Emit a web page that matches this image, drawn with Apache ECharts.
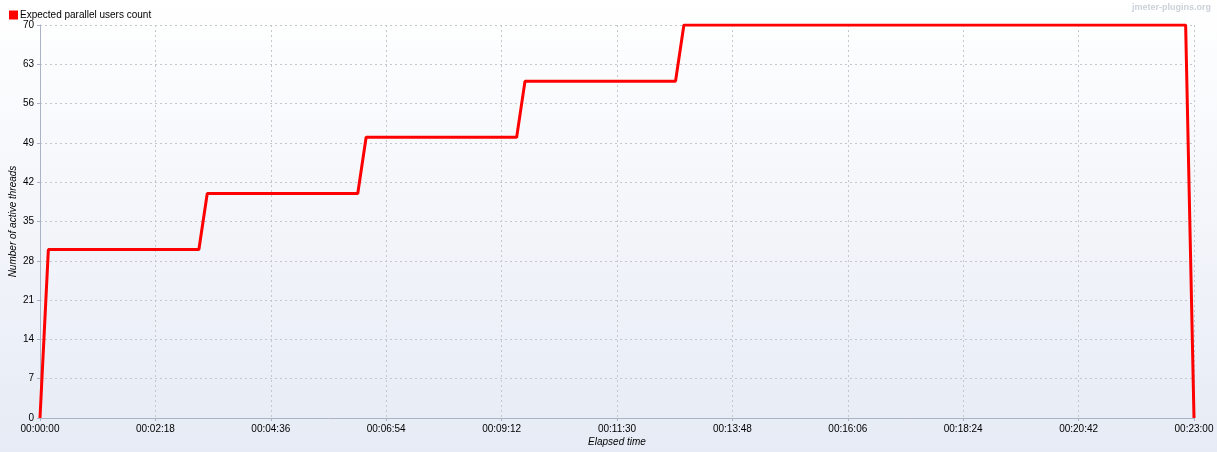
<!DOCTYPE html>
<html><head><meta charset="utf-8">
<script src="https://cdn.jsdelivr.net/npm/echarts@6/dist/echarts.min.js"></script>
<style>html,body{margin:0;padding:0;}#c{width:1217px;height:452px;}</style>
</head><body><div id="c"></div>
<script>
// Elapsed time in seconds
const times = [0, 10, 190, 200, 380, 390, 570, 580, 760, 770, 1370, 1380];
// Expected parallel users count
const users = [0, 30, 30, 40, 40, 50, 50, 60, 60, 70, 70, 0];
const yTicks = [0, 7, 14, 21, 28, 35, 42, 49, 56, 63, 70];
const seriesName = 'Expected parallel users count';

function fmt(v){
  const h = Math.floor(v/3600), m = Math.floor((v%3600)/60), s = Math.round(v%60);
  const p = n => String(n).padStart(2,'0');
  return p(h)+':'+p(m)+':'+p(s);
}
const font = '"Liberation Sans", Arial, sans-serif';
const chart = echarts.init(document.getElementById('c'));
chart.setOption({
  animation:false,
  backgroundColor:{type:'linear',x:0,y:0,x2:0,y2:1,colorStops:[{offset:0,color:'#ffffff'},{offset:1,color:'#e6ebf5'}]},
  textStyle:{fontFamily:font},
  grid:{left:40,right:23,top:25,bottom:34,containLabel:false,outerBoundsMode:'none'},
  legend:{left:4,top:5,itemWidth:9,itemHeight:9,itemGap:4,icon:'rect',
    textStyle:{fontSize:10,color:'#000',fontFamily:font,padding:[0,0,0,-3]},data:[seriesName]},
  graphic:[{type:'text',right:6,top:3,style:{text:'jmeter-plugins.org',fill:'#ccd1d8',font:'bold 9px '+font}}],
  xAxis:{type:'value',min:0,max:1380,interval:138,name:'Elapsed time',nameLocation:'middle',nameGap:19,
    nameMoveOverlap:false,
    nameTextStyle:{fontStyle:'italic',fontSize:10,color:'#000',fontFamily:font},
    axisLine:{lineStyle:{color:'#aab3c3',width:1}},
    axisTick:{show:true,length:3,lineStyle:{color:'#aab3c3'}},
    axisLabel:{formatter:fmt,fontSize:10,color:'#000',margin:6,fontFamily:font},
    splitLine:{show:true,lineStyle:{color:'#c4c7cc',type:[2,3],width:1}}},
  yAxis:{type:'value',min:yTicks[0],max:yTicks[yTicks.length-1],interval:yTicks[1]-yTicks[0],
    name:'Number of active threads',nameLocation:'middle',nameGap:22,nameMoveOverlap:false,
    nameTextStyle:{fontStyle:'italic',fontSize:10,color:'#000',fontFamily:font},
    axisLine:{show:true,lineStyle:{color:'#aab3c3',width:1}},
    axisTick:{show:true,length:3,lineStyle:{color:'#aab3c3'}},
    axisLabel:{fontSize:10,color:'#000',margin:6,fontFamily:font},
    splitLine:{show:true,lineStyle:{color:'#c4c7cc',type:[2,3],width:1}}},
  series:[{name:seriesName,type:'line',showSymbol:false,symbol:'rect',
    itemStyle:{color:'#ff0000'},
    lineStyle:{color:'#ff0000',width:3},
    data:times.map((t,i)=>[t,users[i]])}]
});
</script></body></html>
